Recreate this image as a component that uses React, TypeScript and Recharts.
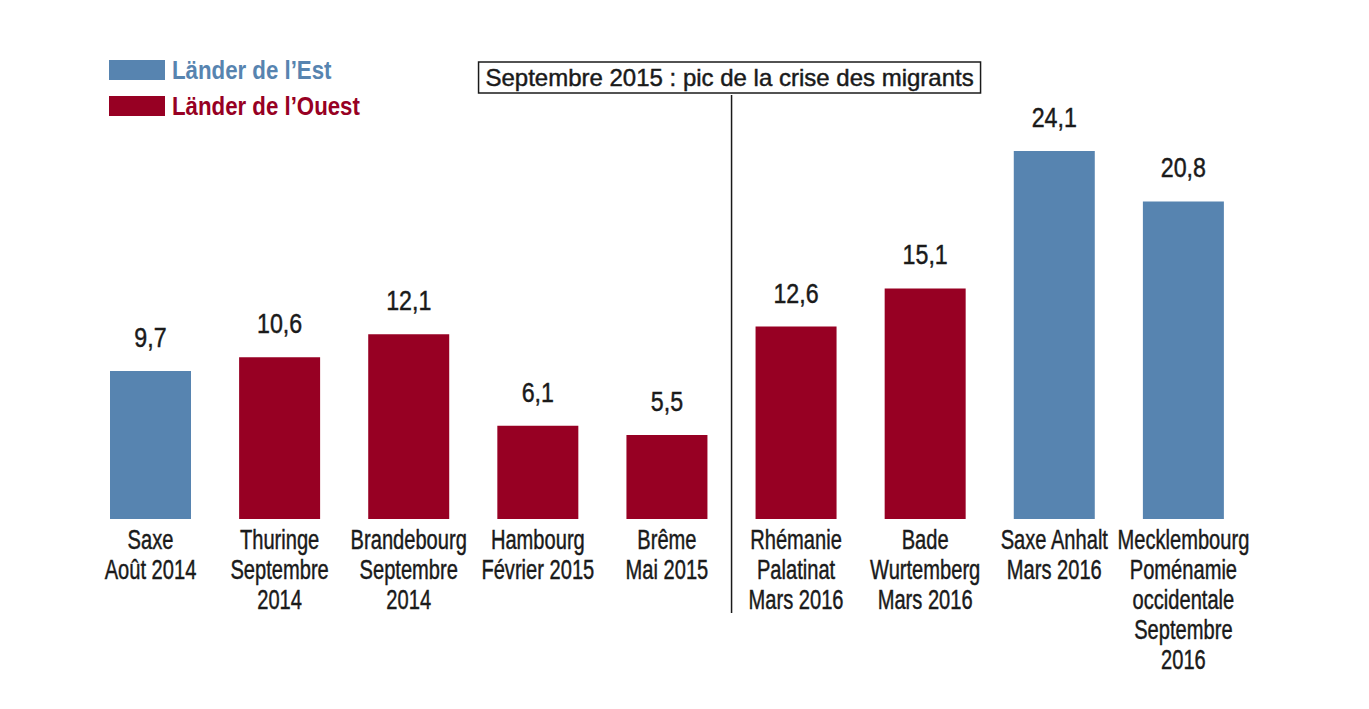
import { BarChart, Bar, XAxis, YAxis, Cell, LabelList, ReferenceLine } from 'recharts'

const font = '"Liberation Sans", Arial, sans-serif'
const BLUE = '#5784B0'
const RED = '#970023'
const INK = '#1a1a1a'

// values
const regions = ['Saxe', 'Thuringe', 'Brandebourg', 'Hambourg', 'Brême', 'Rhémanie', 'Bade', 'Saxe Anhalt', 'Mecklembourg']
const labels = [
  ['Saxe', 'Août 2014'],
  ['Thuringe', 'Septembre', '2014'],
  ['Brandebourg', 'Septembre', '2014'],
  ['Hambourg', 'Février 2015'],
  ['Brême', 'Mai 2015'],
  ['Rhémanie', 'Palatinat', 'Mars 2016'],
  ['Bade', 'Wurtemberg', 'Mars 2016'],
  ['Saxe Anhalt', 'Mars 2016'],
  ['Mecklembourg', 'Poménamie', 'occidentale', 'Septembre', '2016'],
]
const scores = [9.7, 10.6, 12.1, 6.1, 5.5, 12.6, 15.1, 24.1, 20.8]
const groups = ['est', 'ouest', 'ouest', 'ouest', 'ouest', 'ouest', 'ouest', 'est', 'est']

const legendItems = [
  { name: 'Länder de l\u2019Est', color: BLUE },
  { name: 'Länder de l\u2019Ouest', color: RED },
]
const annotation = 'Septembre 2015 : pic de la crise des migrants'
const annotationAt = 'Rhémanie'

const data = regions.map((r, i) => ({ region: r, score: scores[i], group: groups[i], idx: i }))

// the source font is a bit heavier than Liberation regular, a thin stroke helps
const heavy = { stroke: INK, strokeWidth: 0.45 }

const ValueLabel = (p: any) => (
  <text
    transform={`translate(${p.x + p.width / 2},${p.y - 24}) scale(0.86,1)`}
    textAnchor="middle" fontFamily={font} fontSize={27} fill={INK} {...heavy}
  >
    {String(p.value).replace('.', ',')}
  </text>
)

const CatLabel = (p: any) => {
  const lines = labels[p.value] || []
  const cx = p.x + p.width / 2
  const bottom = p.y + p.height
  return (
    <g transform={`translate(${cx},${bottom}) scale(0.745,1)`}>
      <text textAnchor="middle" fontFamily={font} fontSize={27} fill={INK} {...heavy}>
        {lines.map((l, k) => (
          <tspan key={k} x={0} y={30 + k * 30}>{l}</tspan>
        ))}
      </text>
    </g>
  )
}

const BoxLabel = (p: any) => {
  const vb = p.viewBox || {}
  const cx = vb.x - 2
  const top = vb.y
  return (
    <g>
      <rect x={cx - 251} y={top - 33} width={502} height={31} fill="#fff" stroke={INK} strokeWidth={1.5} />
      <text x={cx} y={top - 9} textAnchor="middle" fontFamily={font} fontSize={24} fill={INK} {...heavy}>{annotation}</text>
    </g>
  )
}

const LegendOverlay = () => (
  <svg width={400} height={120} style={{ position: 'absolute', left: 0, top: 0 }}>
    {legendItems.map((it, i) => (
      <g key={i}>
        <rect x={101} y={52 + i * 36} width={56} height={20} fill={it.color} />
        <text
          transform={`translate(164,${71 + i * 36}) scale(0.89,1)`}
          fontFamily={font} fontSize={25} fontWeight="bold" fill={it.color}
        >
          {it.name}
        </text>
      </g>
    ))}
  </svg>
)

export default function App() {
  return (
    <div style={{ position: 'relative', width: 1353, height: 693, background: '#fff' }}>
      <BarChart
        width={1353}
        height={693}
        data={data}
        margin={{ top: 87, right: 113, bottom: 88, left: 78 }}
        barSize={81}
      >
        <XAxis dataKey="region" hide />
        <YAxis hide domain={[-6.156, 27.77]} allowDataOverflow />
        <ReferenceLine x={annotationAt} position="start" stroke={INK} strokeWidth={1.5} label={<BoxLabel />} />
        <Bar dataKey="score" isAnimationActive={false}>
          {data.map((d, i) => (
            <Cell key={i} fill={d.group === 'est' ? BLUE : RED} />
          ))}
          <LabelList dataKey="score" content={<ValueLabel />} />
          <LabelList dataKey="idx" content={<CatLabel />} />
        </Bar>
      </BarChart>
      <LegendOverlay />
    </div>
  )
}
